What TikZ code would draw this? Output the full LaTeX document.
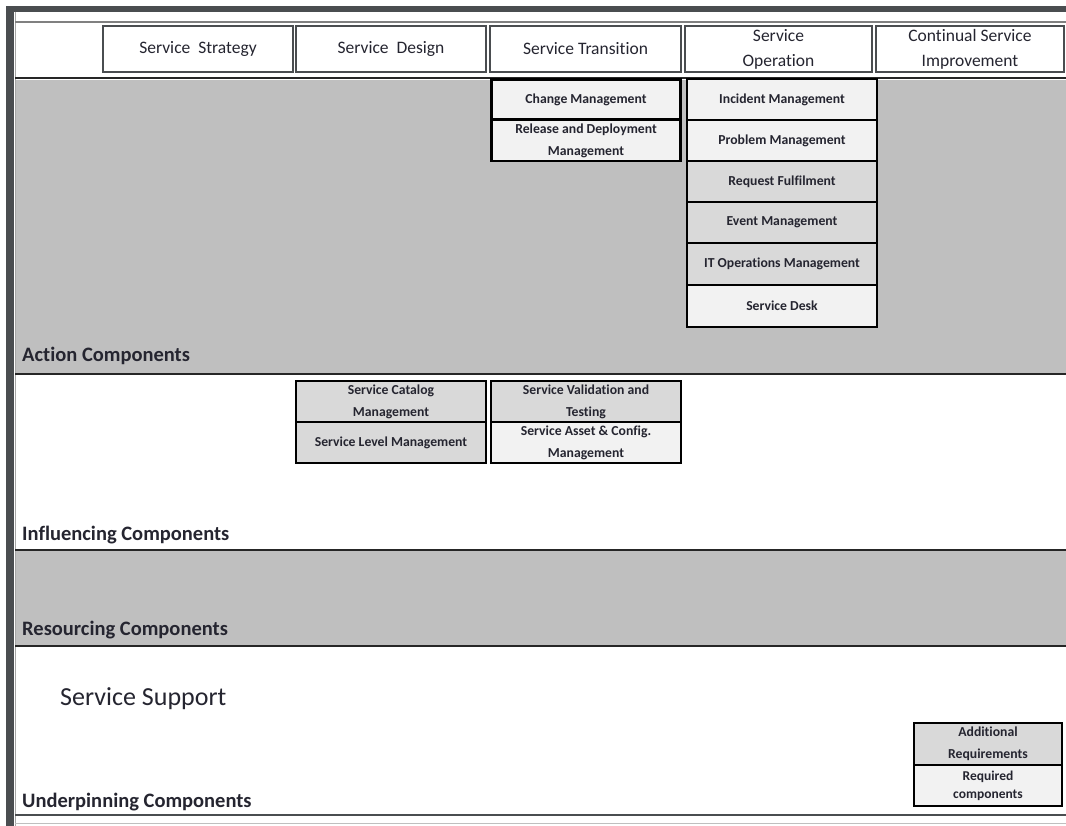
\documentclass[tikz,border=0pt]{standalone}
\usepackage{fontspec}
\setmainfont{Carlito}[RawFeature={-liga}]
\definecolor{band}{HTML}{BFBFBF}
\definecolor{lightbox}{HTML}{F2F2F2}
\definecolor{midbox}{HTML}{D9D9D9}
\definecolor{frame}{HTML}{4A4D50}
\definecolor{txt}{HTML}{252530}
\definecolor{sep}{HTML}{262626}
\begin{document}
\begin{tikzpicture}[x=1pt,y=-1pt,
  hdr/.style={draw=frame, line width=1.5pt, fill=white, text=txt, align=center,
    inner sep=0pt, font=\fontsize{17.5}{25}\selectfont},
  comp/.style={draw=black, line width=2.3pt, text=txt, align=center, inner sep=0pt,
    font=\bfseries\fontsize{13.7}{22}\selectfont},
  lbl/.style={anchor=base west, text=txt, inner sep=0pt, font=\bfseries\fontsize{20.5}{24}\selectfont},
  sepline/.style={draw=sep, line width=2pt}
]
\useasboundingbox (0,0) rectangle (1066,826);
\fill[white] (0,0) rectangle (1066,826);
% bands
\fill[band] (15,80) rectangle (1066,373);
\fill[band] (15,551) rectangle (1066,645);
% frame bars
\fill[frame] (6,6) rectangle (1066,12);
\fill[frame] (6,6) rectangle (14,826);
\draw[gray!70, line width=0.6pt] (15,12) -- (15,826);
% separators
\draw[gray, line width=1.3pt] (15,22) -- (1066,22);
\draw[sepline] (15,78.5) -- (1066,78.5);
\draw[sepline] (15,374) -- (1066,374);
\draw[sepline] (15,550) -- (1066,550);
\draw[sepline, line width=1.5pt] (15,646) -- (1066,646);
\draw[draw=frame, line width=2pt] (15,815) -- (1066,815);
\draw[gray!50, line width=1pt] (15,823) -- (1066,823);
% header
\node[hdr, minimum width=190pt, minimum height=46pt] (strat) at (198,49) {Service\ \ Strategy};
\node[hdr, minimum width=190pt, minimum height=46pt] (design) at (391,49) {Service\ \ Design};
\node[hdr, minimum width=191pt, minimum height=46pt] (trans) at (585.5,49) {Service Transition};
\node[hdr, minimum width=187pt, minimum height=46pt] (oper) at (778.5,49) {Service\\Operation};
\node[hdr, minimum width=188pt, minimum height=46pt] (csi) at (970,49) {Continual Service\\Improvement};
% action components
\node[comp, fill=lightbox, minimum width=189pt, minimum height=40pt] (change) at (586,99.5) {Change Management};
\node[comp, fill=lightbox, minimum width=189pt, minimum height=41pt] (release) at (586,140.5) {Release and Deployment\\Management};
\node[comp, fill=lightbox, minimum width=190pt, minimum height=41pt] (incident) at (782,99.5) {Incident Management};
\node[comp, fill=lightbox, minimum width=190pt, minimum height=41pt] (problem) at (782,140.5) {Problem Management};
\node[comp, fill=midbox, minimum width=190pt, minimum height=41pt] (request) at (782,181.5) {Request Fulfilment};
\node[comp, fill=midbox, minimum width=190pt, minimum height=41pt] (event) at (782,222.5) {Event Management};
\node[comp, fill=midbox, minimum width=190pt, minimum height=42pt] (itops) at (782,264) {IT Operations Management};
\node[comp, fill=lightbox, minimum width=190pt, minimum height=42pt] (desk) at (782,306) {Service Desk};
\node[lbl] (action) at (22,362) {Action Components};
% influencing components
\node[comp, fill=midbox, minimum width=190pt, minimum height=41pt] (catalog) at (391,401.5) {Service Catalog\\Management};
\node[comp, fill=midbox, minimum width=190pt, minimum height=41pt] (slm) at (391,442.5) {Service Level Management};
\node[comp, fill=midbox, minimum width=190pt, minimum height=41pt] (svt) at (586,401.5) {Service Validation and\\Testing};
\node[comp, fill=lightbox, minimum width=190pt, minimum height=41pt] (sacm) at (586,442.5) {Service Asset \& Config.\\Management};
\node[lbl] (influencing) at (22,540) {Influencing Components};
% resourcing
\node[lbl] (resourcing) at (22,635) {Resourcing Components};
% underpinning
\node[anchor=base west, text=txt, inner sep=0pt, font=\fontsize{26}{30}\selectfont] (support) at (60,705) {Service Support};
\node[comp, fill=midbox, minimum width=148pt, minimum height=42pt] (addreq) at (988,744) {Additional\\Requirements};
\node[comp, fill=lightbox, minimum width=148pt, minimum height=41pt, font=\bfseries\fontsize{13.5}{18}\selectfont] (reqcomp) at (988,785.5) {Required\\components};
\node[lbl] (underpinning) at (22,807) {Underpinning Components};
\end{tikzpicture}
\end{document}
